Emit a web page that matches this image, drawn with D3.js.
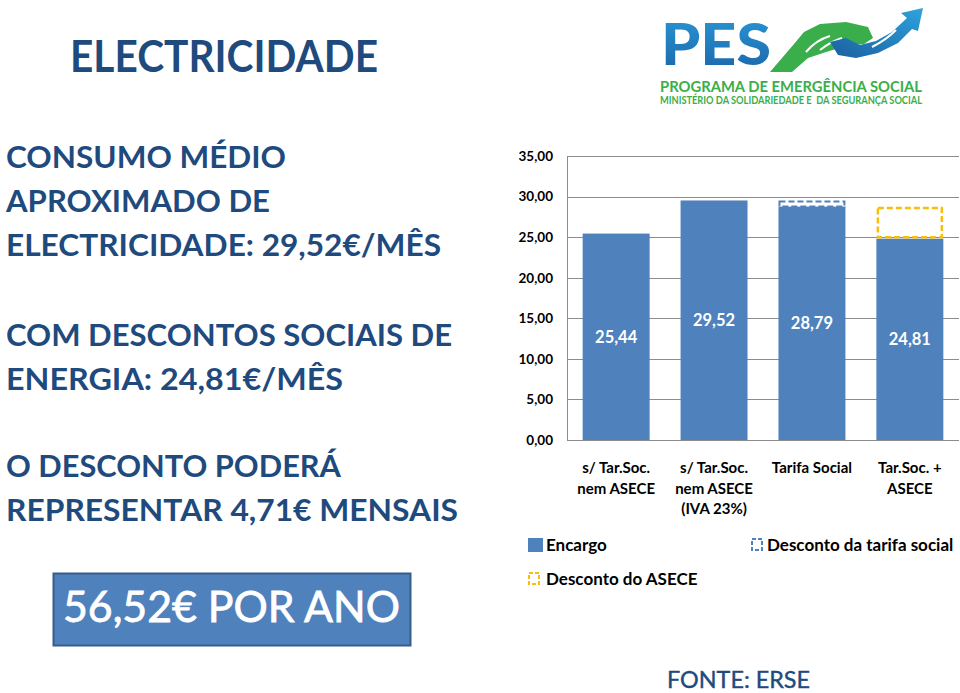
<!DOCTYPE html>
<html>
<head>
<meta charset="utf-8">
<script src="https://cdn.jsdelivr.net/npm/d3@7"></script>
<style>
  html, body { margin: 0; padding: 0; background: #fff; }
  svg { display: block; }
  text { font-family: Lato, "Open Sans", "DejaVu Sans", sans-serif; }
</style>
</head>
<body>
<svg id="chart" width="960" height="693"></svg>
<script>
// ---------------- DATA ----------------
const categories = ["s/ Tar.Soc.|nem ASECE", "s/ Tar.Soc.|nem ASECE|(IVA 23%)", "Tarifa Social", "Tar.Soc. +|ASECE"];
const encargo = [25.44, 29.52, 28.79, 24.81];
const descontoTarifaSocial = [0, 0, 0.73, 0];
const descontoAsece = [0, 0, 0, 3.98];
const yTicks = [0, 5, 10, 15, 20, 25, 30, 35];
const seriesNames = ["Encargo", "Desconto da tarifa social", "Desconto do ASECE"];

const title = "ELECTRICIDADE";
const leftLines = [
  "CONSUMO MÉDIO",
  "APROXIMADO DE",
  "ELECTRICIDADE: 29,52€/MÊS",
  "COM DESCONTOS SOCIAIS DE",
  "ENERGIA: 24,81€/MÊS",
  "O DESCONTO PODERÁ",
  "REPRESENTAR 4,71€ MENSAIS"
];
const boxText = "56,52€ POR ANO";
const sourceText = "FONTE: ERSE";
const logoLines = ["PES", "PROGRAMA DE EMERGÊNCIA SOCIAL", "MINISTÉRIO DA SOLIDARIEDADE E  DA SEGURANÇA SOCIAL"];

// ---------------- LAYOUT ----------------
const svg = d3.select("#chart");
const navy = "#1f4a7e";
const barBlue = "#4f81bd";
const yellow = "#f7bd0f";
const fmt = v => d3.format(".2f")(v).replace(".", ",");

// Title
svg.append("text").attr("x", 70).attr("y", 72)
  .attr("font-size", 43).attr("font-weight", 700).attr("fill", navy)
  .attr("textLength", 308).attr("lengthAdjust", "spacingAndGlyphs")
  .text(title);

// Left text block
const leftPos = [
  {y: 168, w: 280}, {y: 212, w: 264}, {y: 256, w: 435},
  {y: 346, w: 446}, {y: 390, w: 337},
  {y: 477, w: 335}, {y: 521, w: 452}
];
leftLines.forEach((t, i) => {
  svg.append("text").attr("x", 6).attr("y", leftPos[i].y)
    .attr("font-size", 30).attr("font-weight", 700).attr("fill", navy)
    .attr("textLength", leftPos[i].w).attr("lengthAdjust", "spacingAndGlyphs")
    .text(t);
});

// Box
svg.append("rect").attr("x", 53.5).attr("y", 573.5).attr("width", 357).attr("height", 72)
  .attr("fill", barBlue).attr("stroke", "#385d8a").attr("stroke-width", 2);
svg.append("text").attr("x", 63).attr("y", 622)
  .attr("font-size", 42).attr("font-weight", 400).attr("fill", "#fff")
  .style("paint-order", "stroke").attr("stroke", "#fff").attr("stroke-width", 0.8)
  .attr("textLength", 337).attr("lengthAdjust", "spacingAndGlyphs")
  .text(boxText);

// Source
svg.append("text").attr("x", 667).attr("y", 688)
  .attr("font-size", 23).attr("font-weight", 400).attr("fill", navy)
  .attr("stroke", navy).attr("stroke-width", 0.4)
  .attr("textLength", 143).attr("lengthAdjust", "spacingAndGlyphs")
  .text(sourceText);

// ---------------- LOGO ----------------
const defs = svg.append("defs");
const gBlue = defs.append("linearGradient").attr("id", "pesBlue").attr("x1", 0).attr("y1", 0).attr("x2", 0).attr("y2", 1);
gBlue.append("stop").attr("offset", "0%").attr("stop-color", "#2a9ad8");
gBlue.append("stop").attr("offset", "100%").attr("stop-color", "#1a64a8");
const gHand = defs.append("linearGradient").attr("id", "handBlue").attr("x1", 0).attr("y1", 1).attr("x2", 1).attr("y2", 0);
gHand.append("stop").attr("offset", "0%").attr("stop-color", "#1b5fa0");
gHand.append("stop").attr("offset", "100%").attr("stop-color", "#2ea3dd");

svg.append("text").attr("x", 661).attr("y", 65)
  .attr("font-size", 58).attr("font-weight", 900).attr("fill", "url(#pesBlue)")
  .attr("textLength", 110).attr("lengthAdjust", "spacingAndGlyphs")
  .text(logoLines[0]);
// green hand
svg.append("path")
  .attr("d", "M770,72 L792,72 L808,58 L826,52 L846,46 L864,44 L873,38 L868,27 L846,22 L820,24 L804,32 L794,44 Z")
  .attr("fill", "#3aae4a");
svg.append("path").attr("d", "M806,52 Q816,40 830,36 M820,50 Q830,42 842,38").attr("stroke", "#fff").attr("stroke-width", 2).attr("fill", "none");
// blue hand
svg.append("path")
  .attr("d", "M830,42 L838,55 L856,58 L878,53 L898,43 L912,29 L918,31 L923,8 L901,13 L907,18 L892,32 L876,41 L860,45 L846,38 Z")
  .attr("fill", "url(#handBlue)");
svg.append("path").attr("d", "M872,47 Q886,40 896,30").attr("stroke", "#fff").attr("stroke-width", 2).attr("fill", "none");

svg.append("text").attr("x", 660).attr("y", 92)
  .attr("font-size", 16).attr("font-weight", 700).attr("fill", "#3aae4a")
  .attr("textLength", 262).attr("lengthAdjust", "spacingAndGlyphs")
  .text(logoLines[1]);
svg.append("text").attr("x", 660).attr("y", 104)
  .attr("font-size", 10.5).attr("font-weight", 700).attr("fill", "#3aae4a")
  .style("white-space", "pre")
  .attr("textLength", 262).attr("lengthAdjust", "spacingAndGlyphs")
  .text(logoLines[2]);

// ---------------- CHART ----------------
const y = d3.scaleLinear().domain([0, 35]).range([440, 156]);
const x = d3.scaleBand().domain(categories).range([567, 959]).paddingInner(0.316).paddingOuter(0.16);

const g = svg.append("g");
// gridlines
g.selectAll("line.grid").data(yTicks).enter().append("line")
  .attr("x1", 567).attr("x2", 959)
  .attr("y1", d => Math.round(y(d)) + 0.5).attr("y2", d => Math.round(y(d)) + 0.5)
  .attr("stroke", "#8c8c8c").attr("stroke-width", 1);
// y axis line
g.append("line").attr("x1", 567.5).attr("x2", 567.5).attr("y1", y(35)).attr("y2", y(0))
  .attr("stroke", "#8c8c8c");

// y axis labels
const yAxis = d3.axisLeft(y).tickValues(yTicks).tickSize(0).tickPadding(14).tickFormat(fmt);
const ya = svg.append("g").attr("transform", "translate(567,0)").call(yAxis);
ya.select(".domain").remove();
ya.selectAll("text").attr("font-size", 13.5).attr("font-weight", 700).attr("fill", "#000")
  .attr("font-family", "Lato, sans-serif");

// stacked data
const table = categories.map((c, i) => ({cat: c, enc: encargo[i], ts: descontoTarifaSocial[i], asece: descontoAsece[i]}));
const stack = d3.stack().keys(["enc", "ts", "asece"]);
const layers = stack(table);

// Encargo bars
g.selectAll("rect.enc").data(layers[0]).enter().append("rect")
  .attr("x", d => x(d.data.cat)).attr("width", x.bandwidth())
  .attr("y", d => y(d[1])).attr("height", d => y(d[0]) - y(d[1]))
  .attr("fill", barBlue);

// Tarifa social discount (dashed blue outline)
g.selectAll("rect.ts").data(layers[1].filter(d => d[1] - d[0] > 0)).enter().append("rect")
  .attr("x", d => x(d.data.cat) + 1).attr("width", x.bandwidth() - 2)
  .attr("y", d => y(d[1]) + 1).attr("height", d => y(d[0]) - y(d[1]) - 1)
  .attr("fill", "#fff").attr("stroke", barBlue).attr("stroke-width", 2)
  .attr("stroke-dasharray", "6,3");

// ASECE discount (dashed yellow outline)
g.selectAll("rect.asece").data(layers[2].filter(d => d[1] - d[0] > 0)).enter().append("rect")
  .attr("x", d => x(d.data.cat) + 1.5).attr("width", x.bandwidth() - 3)
  .attr("y", d => y(d[1]) + 1.5).attr("height", d => y(d[0]) - y(d[1]) - 3)
  .attr("fill", "none").attr("stroke", yellow).attr("stroke-width", 2.5)
  .attr("stroke-dasharray", "6,3");

// data labels
g.selectAll("text.val").data(layers[0]).enter().append("text")
  .attr("x", d => x(d.data.cat) + x.bandwidth() / 2)
  .attr("y", d => (y(d[0]) + y(d[1])) / 2 + 6)
  .attr("text-anchor", "middle").attr("font-size", 16.5).attr("font-weight", 700).attr("fill", "#fff")
  .text(d => fmt(d.data.enc));

// category labels
categories.forEach(c => {
  const t = svg.append("text").attr("text-anchor", "middle")
    .attr("font-size", 15).attr("font-weight", 700).attr("fill", "#000");
  c.split("|").forEach((line, j) => {
    t.append("tspan").attr("x", x(c) + x.bandwidth() / 2).attr("y", 473 + j * 20.5).text(line);
  });
});

// ---------------- LEGEND ----------------
const leg = svg.append("g");
// Encargo
leg.append("rect").attr("x", 528).attr("y", 538).attr("width", 15).attr("height", 14).attr("fill", barBlue);
leg.append("text").attr("x", 546).attr("y", 551).attr("font-size", 17).attr("font-weight", 700).attr("fill", "#000")
  .text(seriesNames[0]);
// Desconto tarifa social
leg.append("rect").attr("x", 752).attr("y", 539).attr("width", 10).attr("height", 11)
  .attr("fill", "none").attr("stroke", barBlue).attr("stroke-width", 2).attr("stroke-dasharray", "4,2");
leg.append("text").attr("x", 767).attr("y", 551).attr("font-size", 17).attr("font-weight", 700).attr("fill", "#000")
  .text(seriesNames[1]);
// Desconto ASECE
leg.append("rect").attr("x", 529).attr("y", 573).attr("width", 10).attr("height", 11)
  .attr("fill", "none").attr("stroke", yellow).attr("stroke-width", 2).attr("stroke-dasharray", "4,2");
leg.append("text").attr("x", 546).attr("y", 585).attr("font-size", 17).attr("font-weight", 700).attr("fill", "#000")
  .text(seriesNames[2]);
</script>
</body>
</html>
